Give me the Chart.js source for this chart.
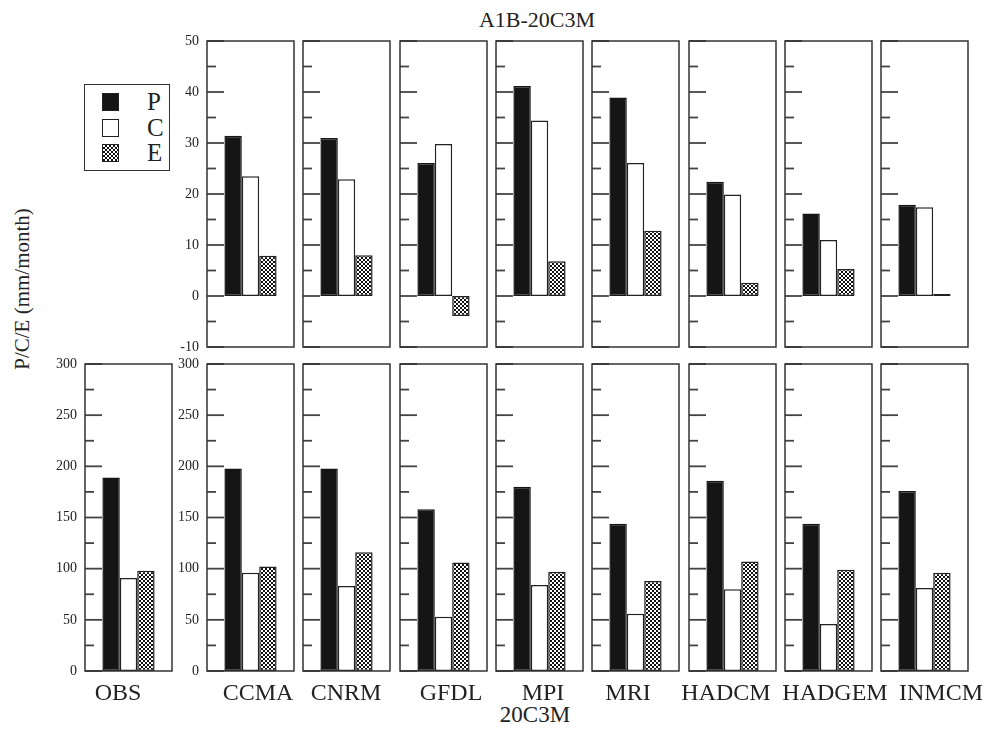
<!DOCTYPE html>
<html>
<head>
<meta charset="utf-8">
<title>A1B-20C3M</title>
<script src="https://cdn.jsdelivr.net/npm/chart.js@4.4.1/dist/chart.umd.min.js"></script>
<style>
    body { margin: 0; background: #fff; }
    #page { position: relative; width: 999px; height: 732px; overflow: hidden; font-family: 'Liberation Serif', serif; color: #222; }
    #page canvas { position: absolute; }
    .txt { position: absolute; transform: translate(-50%, -50%); white-space: nowrap; }
    #legend { position: absolute; left: 84px; top: 84px; width: 84px; height: 85px; border: 1.5px solid #333; }
    .sw { position: absolute; left: 17px; width: 17px; height: 18px; box-sizing: border-box; border: 1.5px solid #222; }
    .lg { position: absolute; left: 62px; font-size: 25px; line-height: 25px; }
</style>
</head>
<body>
<div id="page">
    <div class="txt" style="left:537px; top:20px; font-size:22px;">A1B-20C3M</div>
    <div class="txt" style="left:22px; top:289px; font-size:21px; transform: translate(-50%, -50%) rotate(-90deg);">P/C/E (mm/month)</div>
    <div class="txt" style="left:535px; top:715px; font-size:23px;">20C3M</div>
    <div id="legend"></div>
</div>
<script>
// valores
const models = ['CCMA', 'CNRM', 'GFDL', 'MPI', 'MRI', 'HADCM', 'HADGEM', 'INMCM'];
const bottomCats = ['OBS', 'CCMA', 'CNRM', 'GFDL', 'MPI', 'MRI', 'HADCM', 'HADGEM', 'INMCM'];
const seriesNames = ['P', 'C', 'E'];

// A1B-20C3M (linha de cima)
const topP = [31.4, 31.0, 26.1, 41.2, 38.9, 22.4, 16.2, 17.9];
const topC = [23.5, 22.9, 29.8, 34.4, 26.1, 19.9, 11.0, 17.4];
const topE = [7.9, 8.0, -3.9, 6.8, 12.8, 2.6, 5.3, 0.4];

// 20C3M (linha de baixo)
const botP = [189, 198, 198, 158, 180, 144, 186, 144, 176];
const botC = [91, 96, 83, 53, 84, 56, 80, 46, 81];
const botE = [98, 102, 116, 106, 97, 88, 107, 99, 96];

// eixos: [min, max, passo]
const topAxis = [-10, 50, 10];
const botAxis = [0, 300, 50];

document.addEventListener('DOMContentLoaded', function () {
    const page = document.getElementById('page');

    // padrão xadrez para a barra E
    function checker() {
        const c = document.createElement('canvas');
        c.width = 4; c.height = 4;
        const g = c.getContext('2d');
        g.fillStyle = '#fff';
        g.fillRect(0, 0, 4, 4);
        g.fillStyle = '#111';
        g.fillRect(0, 0, 2, 2);
        g.fillRect(2, 2, 2, 2);
        return g.createPattern(c, 'repeat');
    }
    const pattern = checker();

    // caixa e marcas internas do eixo y
    const panelBox = {
        id: 'panelBox',
        beforeDatasetsDraw(chart) {
            const ctx = chart.ctx;
            const a = chart.chartArea;
            const y = chart.scales.y;
            const step = y.options.ticks.stepSize;
            ctx.save();
            ctx.strokeStyle = '#444';
            ctx.lineWidth = 1.8;
            for (let v = y.min; v <= y.max; v += step / 2) {
                const py = y.getPixelForValue(v);
                const major = Math.abs((v - y.min) % step) < 1e-6;
                ctx.beginPath();
                ctx.moveTo(a.left, py);
                ctx.lineTo(a.left + (major ? 17 : 9), py);
                ctx.stroke();
            }
            ctx.restore();
        },
        afterDraw(chart) {
            const ctx = chart.ctx;
            const a = chart.chartArea;
            ctx.save();
            ctx.strokeStyle = '#333';
            ctx.lineWidth = 1.5;
            ctx.strokeRect(a.left, a.top, a.right - a.left, a.bottom - a.top);
            ctx.restore();
        }
    };

    // cria um painel pequeno
    function makePanel(left, top, height, axis, values, showTicks) {
        const margin = 40;
        const canvas = document.createElement('canvas');
        canvas.width = margin + 87 + 3;
        canvas.height = height + 20;
        canvas.style.left = (left - margin) + 'px';
        canvas.style.top = (top - 10) + 'px';
        page.appendChild(canvas);

        const fills = ['#151515', '#ffffff', pattern];
        const borders = ['#151515', '#222', '#222'];

        new Chart(canvas.getContext('2d'), {
            type: 'bar',
            data: {
                labels: [''],
                datasets: seriesNames.map(function (name, k) {
                    return {
                        label: name,
                        data: [values[k]],
                        backgroundColor: fills[k],
                        borderColor: borders[k],
                        borderWidth: 1.5,
                        borderSkipped: false,
                        categoryPercentage: 0.6,
                        barPercentage: 1.0,
                    };
                }),
            },
            options: {
                responsive: false,
                animation: false,
                layout: { padding: { top: 10, bottom: 10, left: 0, right: 3 } },
                plugins: { legend: { display: false }, tooltip: { enabled: false } },
                scales: {
                    x: { display: false },
                    y: {
                        min: axis[0],
                        max: axis[1],
                        grid: { display: false, drawTicks: false },
                        border: { display: false },
                        ticks: {
                            display: showTicks,
                            stepSize: axis[2],
                            padding: 8,
                            color: '#222',
                            font: { family: 'Liberation Serif', size: 14 },
                        },
                        afterFit: function (s) {
                            s.width = margin;
                            s.paddingTop = 0;
                            s.paddingBottom = 0;
                        },
                    },
                },
            },
            plugins: [panelBox],
        });
    }

    const pitch = 96.3;
    models.forEach(function (m, i) {
        const left = Math.round(207 + i * pitch);
        makePanel(left, 41, 306, topAxis, [topP[i], topC[i], topE[i]], i === 0);
    });
    bottomCats.forEach(function (m, i) {
        const left = i === 0 ? 85 : Math.round(207 + (i - 1) * pitch);
        makePanel(left, 364, 307, botAxis, [botP[i], botC[i], botE[i]], i <= 1);
    });

    // rótulos dos modelos
    const labelX = [118, 258, 346, 451, 543, 628, 726, 835, 941];
    bottomCats.forEach(function (name, i) {
        const d = document.createElement('div');
        d.className = 'txt';
        d.style.left = labelX[i] + 'px';
        d.style.top = '692px';
        d.style.fontSize = '24px';
        d.textContent = name;
        page.appendChild(d);
    });

    // legenda
    const legend = document.getElementById('legend');
    const swFill = ['#151515', '#fff', 'repeating-conic-gradient(#111 0 25%, #fff 0 50%) 0 0 / 4px 4px'];
    seriesNames.forEach(function (name, k) {
        const sw = document.createElement('div');
        sw.className = 'sw';
        sw.style.top = (8 + k * 25.5) + 'px';
        sw.style.background = swFill[k];
        legend.appendChild(sw);
        const t = document.createElement('div');
        t.className = 'lg';
        t.style.top = (4 + k * 25.5) + 'px';
        t.textContent = name;
        legend.appendChild(t);
    });
});
</script>
</body>
</html>
